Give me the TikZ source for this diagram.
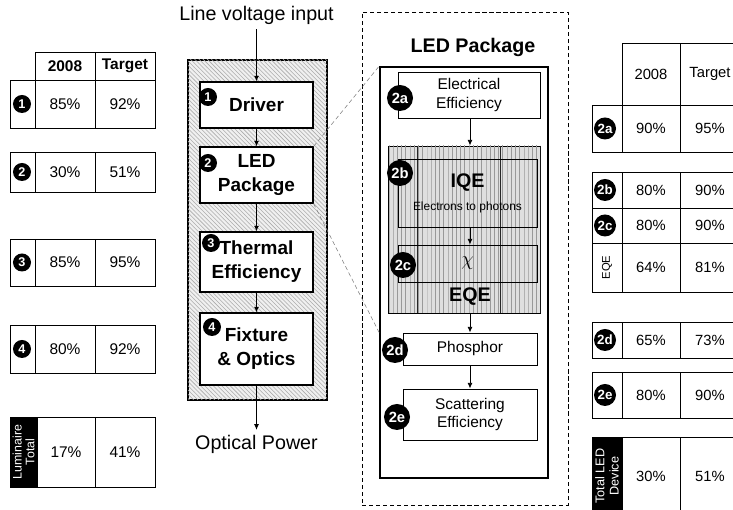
\documentclass[tikz,border=0pt]{standalone}
\usepackage{fontspec}
\setmainfont{Liberation Sans}
\usetikzlibrary{arrows.meta,patterns,positioning,calc}
\tikzset{sz/.style 2 args={minimum width=#1*0.025cm,minimum height=#2*0.025cm},
 cellbox/.style={draw,line width=.6pt,inner sep=0pt,font=\fontsize{11}{13}\selectfont},
 headbox/.style={cellbox,font=\fontsize{11}{13}\selectfont\bfseries},
 rcell/.style={draw,line width=.6pt,inner sep=0pt,font=\fontsize{10.5}{12}\selectfont},
 blackcell/.style={draw,fill=black,text=white,inner sep=0pt,align=center,rotate=90,font=\fontsize{8.8}{9}\selectfont},
 numdot/.style={circle,fill=black,text=white,inner sep=0pt,minimum size=.45cm,font=\fontsize{9}{9}\selectfont\bfseries},
 middot/.style={numdot,minimum size=.55cm,font=\fontsize{9.5}{9.5}\selectfont\bfseries},
 bigdot/.style={numdot,minimum size=.65cm,font=\fontsize{10.5}{10.5}\selectfont\bfseries},
 stage/.style={draw,fill=white,line width=.8pt,align=center,inner sep=0pt,font=\fontsize{13.5}{17}\selectfont\bfseries},
 subbox/.style={draw,line width=.7pt,align=center,inner sep=0pt,font=\fontsize{11}{13.5}\selectfont},
 bigword/.style={font=\fontsize{14}{16}\selectfont},
 flow/.style={-{Latex[length=4pt,width=3.5pt]},line width=.6pt},
 zoomline/.style={densely dashed,gray,line width=.4pt}}
\begin{document}
\begin{tikzpicture}[x=0.025cm,y=-0.025cm]
\useasboundingbox (0,0) rectangle (733,510);
\clip (0,0) rectangle (733,510);
% left table: luminaire
\node[headbox,sz={60}{28}] (lh08) at (65,66) {2008};
\node[headbox,sz={60}{28}] (lhtg) at (125,66) {Target};
\foreach \n/\yc/\h/\a/\b in {1/104/48/85/92,2/172/40/30/51,3/262.5/47/85/95,4/349/48/80/92}{
  \node[cellbox,sz={25}{\h}] (ln\n) at (22.5,\yc) {};
  \node[cellbox,sz={60}{\h}] (la\n) at (65,\yc) {\a\%};
  \node[cellbox,sz={60}{\h}] (lt\n) at (125,\yc) {\b\%};
  \node[numdot] (lb\n) at (22,\yc) {\n};
}
\node[blackcell,sz={70}{27}] (lsum) at (23.5,452) {Luminaire\\Total};
\node[cellbox,sz={58}{70}] (lsuma) at (66,452) {17\%};
\node[cellbox,sz={60}{70}] (lsumt) at (125,452) {41\%};

% middle: luminaire chain
\node[draw,line width=1.3pt,sz={139}{340},fill=gray!12,postaction={pattern=north west lines,pattern color=gray!65}] (lum) at (257.5,230) {};
\node[bigword] (vin) at (256.5,15) {Line voltage input};
\node[stage,sz={113}{46}] (drv) at (256.5,105) {Driver};
\node[stage,sz={113}{56}] (pkg) at (256.5,175) {LED\\Package};
\node[stage,sz={113}{60}] (thm) at (256.5,262) {Thermal\\Efficiency};
\node[stage,sz={113}{72}] (fix) at (256.5,349) {Fixture\\\& Optics};
\node[bigword] (opt) at (256.5,444) {Optical Power};
\node[numdot] (mb1) at (208,97) {1};
\node[numdot] (mb2) at (208,163) {2};
\node[numdot] (mb3) at (211,243) {3};
\node[numdot] (mb4) at (212,327) {4};
\draw[flow] (vin) -- (drv);
\draw[flow] (drv) -- (pkg);
\draw[flow] (pkg) -- (thm);
\draw[flow] (thm) -- (fix);
\draw[flow] (fix) -- (opt);

% LED package detail
\node[draw,densely dashed,line width=.6pt,sz={206}{493}] (frame) at (465,258.5) {};
\node[font=\fontsize{14}{16}\selectfont\bfseries] (ttl) at (473,47) {LED Package};
\node[draw,line width=1.2pt,sz={168}{411}] (ledbox) at (464,272.5) {};
\node[subbox,fill=white,sz={142}{46}] (elec) at (469,95) {Electrical\\Efficiency};
\node[draw,line width=.7pt,sz={152}{167},fill=gray!25,postaction={pattern=vertical lines,pattern color=gray!80}] (eqe) at (464,229.5) {};
\draw[line width=.6pt,gray!30!black] (417,146) -- (417,313);
\draw[line width=.6pt,gray!30!black] (500,146) -- (500,313);
\node[subbox,sz={139}{68}] (iqe) at (467.5,193) {{\fontsize{14}{16}\selectfont\bfseries IQE}\\[3pt]{\fontsize{8.5}{9}\selectfont Electrons to photons}};
\node[subbox,sz={139}{37},font=\fontsize{14}{16}\selectfont] (chi) at (467.5,263.5) {$\chi$};
\node[font=\fontsize{14}{16}\selectfont\bfseries] (eqel) at (470,297) {EQE};
\node[subbox,fill=white,sz={134}{32}] (phos) at (470,349) {Phosphor};
\node[subbox,fill=white,sz={134}{51}] (scat) at (470,414.5) {Scattering\\Efficiency};
\node[bigdot] (b2a) at (400,98) {2a};
\node[bigdot] (b2b) at (400,173) {2b};
\node[bigdot] (b2c) at (403,265) {2c};
\node[bigdot] (b2d) at (395,350) {2d};
\node[bigdot] (b2e) at (397,417) {2e};
\draw[flow] (elec.south -| eqel) -- (eqe.north -| eqel);
\draw[flow] (iqe.south -| eqel) -- (chi.north -| eqel);
\draw[flow] (eqe.south -| eqel) -- (phos.north -| eqel);
\draw[flow] (phos.south -| eqel) -- (scat.north -| eqel);
\draw[zoomline] (pkg.north east) -- (ledbox.north west);
\draw[zoomline] (pkg.south east) -- (ledbox.west |- phos.north);

% right table: LED package
\node[rcell,sz={58}{62}] (rh08) at (651,74) {2008};
\node[rcell,sz={60}{62}] (rhtg) at (710,74) {Target};
\foreach \n/\yc/\h/\a/\b in {2a/128.5/47/90/95,2b/190/36/80/90,2c/225.5/35/80/90,2d/340/36/65/73,2e/395/46/80/90}{
  \node[rcell,sz={30}{\h}] (rn\n) at (607,\yc) {};
  \node[rcell,sz={58}{\h}] (ra\n) at (651,\yc) {\a\%};
  \node[rcell,sz={60}{\h}] (rt\n) at (710,\yc) {\b\%};
  \node[middot] (rb\n) at (605,\yc) {\n};
}
\node[rcell,sz={30}{49}] (rneqe) at (607,267.5) {};
\node[rotate=90,font=\fontsize{8}{9}\selectfont] (reqel) at (607,267.5) {EQE};
\node[rcell,sz={58}{49}] (raeqe) at (651,267.5) {64\%};
\node[rcell,sz={60}{49}] (rteqe) at (710,267.5) {81\%};
\node[blackcell,sz={78}{30},font=\fontsize{9}{10}\selectfont] (rsum) at (607,476) {Total LED\\Device};
\node[rcell,sz={58}{78}] (rsuma) at (651,476) {30\%};
\node[rcell,sz={60}{78}] (rsumt) at (710,476) {51\%};
\end{tikzpicture}
\end{document}
